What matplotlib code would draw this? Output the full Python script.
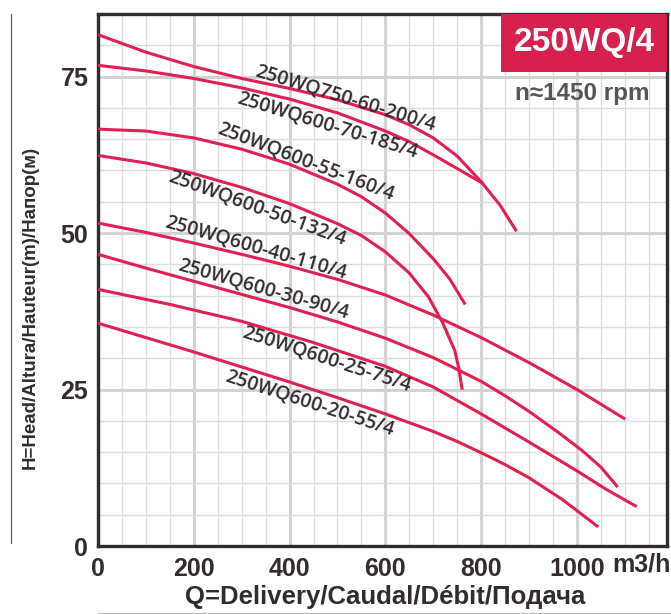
import numpy as np
import matplotlib.pyplot as plt
from matplotlib.patches import Rectangle
from matplotlib.lines import Line2D

# -------------------------------
# Datos de las curvas (Q en m3/h, H en m)
# -------------------------------
models = ["250WQ750-60-200/4", "250WQ600-70-185/4", "250WQ600-55-160/4",
          "250WQ600-50-132/4", "250WQ600-40-110/4", "250WQ600-30-90/4",
          "250WQ600-25-75/4", "250WQ600-20-55/4"]

q_750_60 = [0, 100, 200, 300, 400, 500, 600, 650, 700, 750, 800, 840, 872]
h_750_60 = [81.7, 78.9, 76.6, 74.7, 73.1, 71.3, 68.9, 67.3, 65.2, 62.3, 58.2, 54.4, 50.5]

q_600_70 = [0, 100, 200, 300, 400, 500, 600, 650, 700, 750, 802]
h_600_70 = [76.8, 75.9, 74.7, 73.2, 71.4, 69.2, 66.3, 64.6, 62.5, 60.3, 58.0]

q_600_55 = [0, 100, 200, 300, 400, 500, 550, 600, 650, 700, 735, 765]
h_600_55 = [66.6, 66.3, 65.2, 63.4, 61.0, 57.8, 55.8, 53.2, 49.9, 45.9, 42.6, 38.8]

q_600_50 = [0, 100, 200, 300, 400, 500, 550, 600, 650, 690, 720, 745, 753, 760]
h_600_50 = [62.4, 61.2, 59.5, 57.3, 54.7, 51.5, 49.6, 47.0, 43.6, 39.8, 35.6, 31.2, 28.5, 25.2]

q_600_40 = [0, 100, 200, 300, 400, 500, 600, 700, 800, 900, 1000, 1098]
h_600_40 = [51.6, 50.1, 48.4, 46.6, 44.7, 42.6, 40.1, 36.9, 33.3, 29.3, 25.0, 20.4]

q_600_30 = [0, 100, 200, 300, 400, 500, 600, 700, 800, 850, 900, 960, 1010, 1050, 1083]
h_600_30 = [46.6, 44.4, 42.3, 40.2, 38.1, 35.8, 33.2, 30.1, 26.3, 24.0, 21.5, 18.2, 15.3, 12.6, 9.6]

q_600_25 = [0, 150, 300, 450, 600, 700, 800, 900, 1000, 1060, 1122]
h_600_25 = [41.0, 38.6, 35.9, 32.5, 28.7, 25.4, 21.1, 16.6, 12.0, 9.1, 6.4]

q_600_20 = [0, 100, 200, 300, 400, 500, 600, 700, 750, 800, 850, 900, 970, 1042]
h_600_20 = [35.6, 33.3, 31.0, 28.6, 26.2, 23.7, 21.1, 18.3, 16.7, 14.9, 13.0, 10.9, 7.4, 3.2]

curves_q = [q_750_60, q_600_70, q_600_55, q_600_50, q_600_40, q_600_30, q_600_25, q_600_20]
curves_h = [h_750_60, h_600_70, h_600_55, h_600_50, h_600_40, h_600_30, h_600_25, h_600_20]

x_ticks = [0, 200, 400, 600, 800, 1000]
y_ticks = [0, 25, 50, 75]

# posiciones de las etiquetas (centro, en datos) y giro
label_q = [517, 479, 433, 333, 329, 346, 477, 442]
label_h = [71.5, 67.2, 61.3, 53.9, 47.5, 41.0, 29.8, 22.7]
label_rot = [17, 17, 21, 20, 16, 16, 18, 18]

# -------------------------------
# Gráfica
# -------------------------------
red = "#e01f52"
dark = "#332c2c"
sans = ["Liberation Sans", "DejaVu Sans"]

W, H = 671, 614
fig = plt.figure(figsize=(W / 100, H / 100), dpi=100)
ax = fig.add_axes([98 / W, 1 - 546 / H, (667 - 98) / W, (546 - 14) / H])
ax.set_xlim(0, 1188)
ax.set_ylim(0, 85)

ax.set_xticks(x_ticks)
ax.set_yticks(y_ticks)
ax.set_xticks(np.arange(0, 1188, 50), minor=True)
ax.set_yticks(np.arange(0, 85, 5), minor=True)
ax.grid(which="minor", color="#dcdcdc", lw=1.0, zorder=0)
ax.grid(which="major", color="#d2d2d2", lw=2.2, zorder=0)
ax.set_axisbelow(True)
ax.tick_params(which="both", length=0)
ax.tick_params(axis="x", pad=8)
ax.tick_params(axis="y", pad=7)
for lab in ax.get_xticklabels() + ax.get_yticklabels():
    lab.set_fontfamily(sans)
    lab.set_fontweight("bold")
    lab.set_fontsize(18)
    lab.set_color(dark)

for s in ax.spines.values():
    s.set_color(dark)
    s.set_linewidth(2.4)

for q, h in zip(curves_q, curves_h):
    ax.plot(q, h, color=red, lw=2.2, zorder=3, solid_joinstyle="round")

for name, lq, lh, rot in zip(models, label_q, label_h, label_rot):
    ax.text(lq, lh, name, rotation=-rot, rotation_mode="anchor", ha="center",
            va="center", fontsize=14, color=dark, fontfamily=["Open Sans", "DejaVu Sans"],
            fontweight="semibold", zorder=4)

# recuadro del modelo
ax.add_patch(Rectangle((842, 75.8), 1188 - 842, 85 - 75.8, facecolor="#d6214e",
                       edgecolor="none", zorder=5, clip_on=False))
ax.text((842 + 1188) / 2, (75.8 + 85) / 2, "250WQ/4", ha="center", va="center",
        color="white", fontsize=24, fontweight="bold", fontfamily=sans, zorder=6)
ax.text((842 + 1188) / 2 - 3, 72.3, "n≈1450 rpm", ha="center", va="center",
        color="#555555", fontsize=17.5, fontweight="bold", fontfamily=sans, zorder=6)

fig.text(612 / W, 1 - 565 / H, "m3/h", ha="left", va="center", fontsize=18,
         fontweight="bold", fontfamily=sans, color=dark)
fig.text(385 / W, 1 - 597 / H, "Q=Delivery/Caudal/Débit/Подача", ha="center",
         va="center", fontsize=18.5, fontweight="bold", fontfamily=sans, color=dark)
fig.text(30 / W, 1 - 307 / H, "H=Head/Altura/Hauteur(m)/Напор(м)", ha="center",
         va="center", rotation=90, fontsize=13.5, fontweight="bold", fontfamily=sans,
         color=dark)

fig.add_artist(Line2D([10.5 / W, 10.5 / W], [1 - 543 / H, 1 - 14 / H], color="#555555", lw=0.8))
fig.add_artist(Line2D([98 / W, 1], [1 - 612.5 / H, 1 - 612.5 / H], color="#bbbbbb", lw=0.8))

fig.savefig("out.png", dpi=100)
plt.close()
